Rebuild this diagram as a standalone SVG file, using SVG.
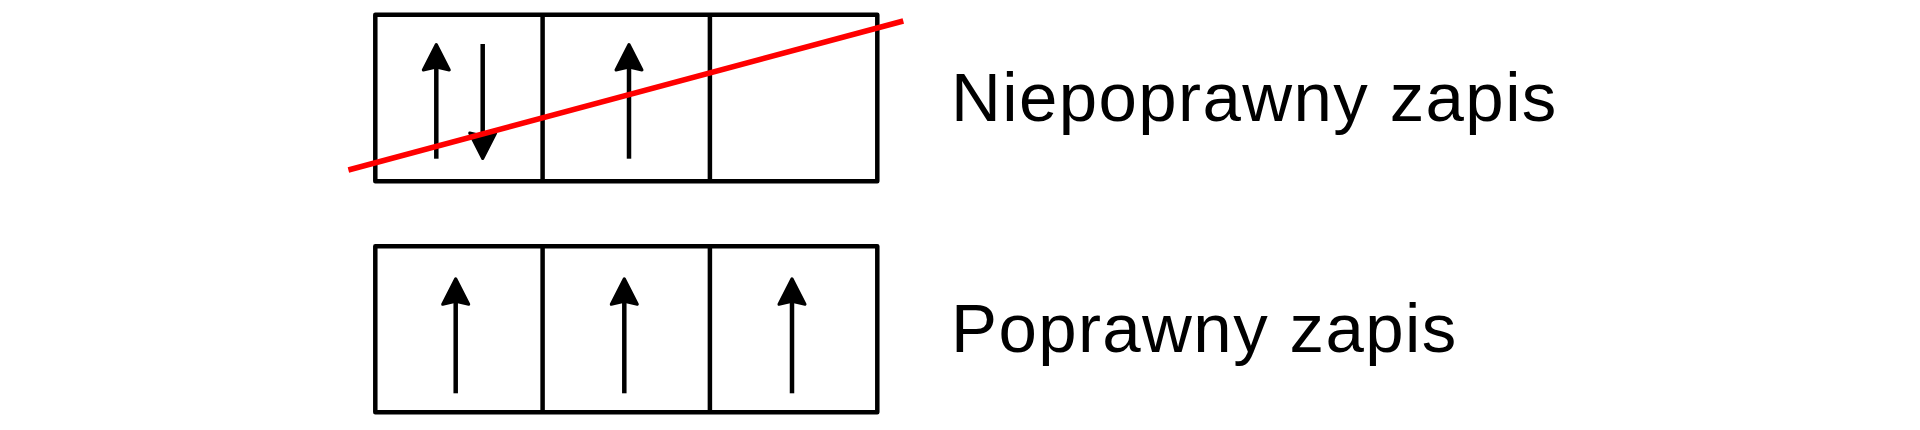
<svg xmlns="http://www.w3.org/2000/svg" width="1920" height="430" viewBox="0 0 1920 430">
  <style>
    .box { fill: none; stroke: #000; stroke-width: 4.5; stroke-linejoin: round; }
    .div { stroke: #000; stroke-width: 4.5; }
    .shaft { stroke: #000; stroke-width: 4.5; }
    .head { fill: #000; stroke: #000; stroke-width: 3; stroke-linejoin: round; }
    .cross { stroke: #ff0000; stroke-width: 5.5; }
    .label { font-family: "Liberation Sans", Arial, sans-serif; font-size: 69px; letter-spacing: 1.4px; fill: #000; }
  </style>
  <defs>
    <path id="headUp" class="head" d="M0,1.5 L13,27 L0,24 L-13,27 Z"/>
  </defs>
  <rect width="1920" height="430" fill="#fff"/>

  <g id="incorrect">
    <rect class="box" x="375.3" y="14.7" width="502" height="166.6"/>
    <line class="div" x1="542.6" y1="14.7" x2="542.6" y2="181.3"/>
    <line class="div" x1="709.9" y1="14.7" x2="709.9" y2="181.3"/>
    <g id="inc-arrow1">
      <line class="shaft" x1="436.3" y1="158.7" x2="436.3" y2="62"/>
      <use href="#headUp" x="436.3" y="43"/>
    </g>
    <g id="inc-arrow2">
      <line class="shaft" x1="482.7" y1="44" x2="482.7" y2="140"/>
      <use href="#headUp" transform="translate(482.7,160) scale(1,-1)"/>
    </g>
    <g id="inc-arrow3">
      <line class="shaft" x1="629" y1="158.7" x2="629" y2="62"/>
      <use href="#headUp" x="629" y="43"/>
    </g>
  </g>

  <g id="correct">
    <rect class="box" x="375.3" y="246.3" width="502" height="166"/>
    <line class="div" x1="542.6" y1="246.3" x2="542.6" y2="412.3"/>
    <line class="div" x1="709.9" y1="246.3" x2="709.9" y2="412.3"/>
    <g id="cor-arrow1">
      <line class="shaft" x1="455.7" y1="393.3" x2="455.7" y2="296"/>
      <use href="#headUp" x="455.7" y="277.3"/>
    </g>
    <g id="cor-arrow2">
      <line class="shaft" x1="624.3" y1="393.3" x2="624.3" y2="296"/>
      <use href="#headUp" x="624.3" y="277.3"/>
    </g>
    <g id="cor-arrow3">
      <line class="shaft" x1="792" y1="393.3" x2="792" y2="296"/>
      <use href="#headUp" x="792" y="277.3"/>
    </g>
  </g>

  <g id="connectors">
    <line class="cross" x1="348.4" y1="170" x2="903.3" y2="21"/>
  </g>

  <g id="labels">
    <text class="label" x="951" y="120.7">Niepoprawny zapis</text>
    <text class="label" x="951" y="351.5">Poprawny zapis</text>
  </g>
</svg>
